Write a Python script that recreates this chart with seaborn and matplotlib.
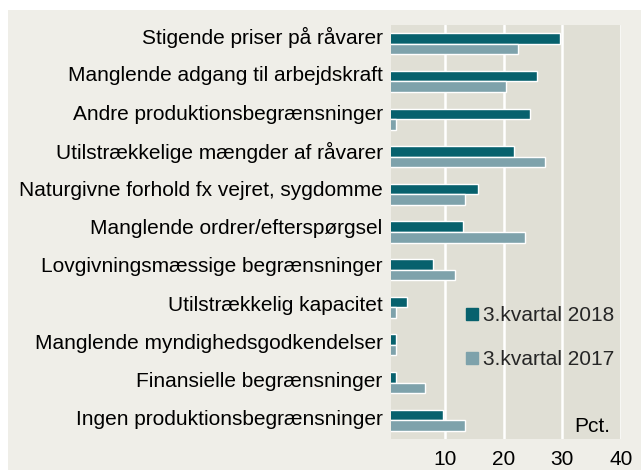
import numpy as np
import pandas as pd
import seaborn as sns
import matplotlib.pyplot as plt
from matplotlib.patches import Rectangle
from matplotlib.lines import Line2D

categories = [
    "Stigende priser på råvarer",
    "Manglende adgang til arbejdskraft",
    "Andre produktionsbegrænsninger",
    "Utilstrækkelige mængder af råvarer",
    "Naturgivne forhold fx vejret, sygdomme",
    "Manglende ordrer/efterspørgsel",
    "Lovgivningsmæssige begrænsninger",
    "Utilstrækkelig kapacitet",
    "Manglende myndighedsgodkendelser",
    "Finansielle begrænsninger",
    "Ingen produktionsbegrænsninger",
]
q3_2018 = [29.6, 25.6, 24.5, 21.7, 15.6, 13.1, 8.0, 3.5, 1.7, 1.7, 9.7]
q3_2017 = [22.4, 20.3, 1.6, 27.0, 13.4, 23.7, 11.7, 1.6, 1.6, 6.6, 13.4]
series = ["3.kvartal 2018", "3.kvartal 2017"]
colors = ["#07616d", "#7ea2ab"]
xticks = [10, 20, 30, 40]

df = pd.DataFrame({
    "kategori": categories * 2,
    "pct": q3_2018 + q3_2017,
    "serie": [series[0]] * len(categories) + [series[1]] * len(categories),
})

sns.set_theme(style="white")
plt.rcParams["font.family"] = ["Liberation Sans", "DejaVu Sans"]

W, H = 641, 470
fig = plt.figure(figsize=(W / 100, H / 100), dpi=100)
fig.patch.set_facecolor("white")
fig.patches.append(Rectangle((8 / W, 0), 1, (H - 10) / H, transform=fig.transFigure,
                             facecolor="#efeee8", edgecolor="none", zorder=-10))

ax = fig.add_axes([391 / W, (H - 439) / H, 230 / W, 414 / H])
ax.set_facecolor("#e0dfd5")

sns.barplot(data=df, y="kategori", x="pct", hue="serie", orient="h",
            palette=colors, width=0.56, ax=ax, legend=False, saturation=1)

ax.set_xlim(0.77, 40)
ax.set_ylim(10.5, -0.5)
ax.set_xticks(xticks)
ax.set_xticklabels([str(t) for t in xticks])
# labels sit on a slightly wider spacing than the bars
ax.set_yticks(np.linspace(-0.22, 9.94, len(categories)))
ax.set_yticklabels(categories)
ax.grid(axis="x", color="white", linewidth=1.8)
ax.set_axisbelow(True)
for s in ax.spines.values():
    s.set_visible(False)
ax.tick_params(axis="y", length=0, pad=6, labelsize=15, labelcolor="black")
ax.tick_params(axis="x", length=0, pad=8, labelsize=15, labelcolor="black")
ax.set_xlabel("")
ax.set_ylabel("")

handles = [Line2D([], [], marker="s", linestyle="none", markersize=8,
                  color=c) for c in colors]
ax.legend(handles, series, loc="center left", bbox_to_anchor=(0.27, 0.245),
          frameon=False, fontsize=15, labelspacing=1.2, handletextpad=0.15,
          handlelength=0.8, borderpad=0)

ax.text(0.955, 0.03, "Pct.", transform=ax.transAxes, ha="right", va="center",
        fontsize=15, color="black")

fig.savefig("out.png", dpi=100)
